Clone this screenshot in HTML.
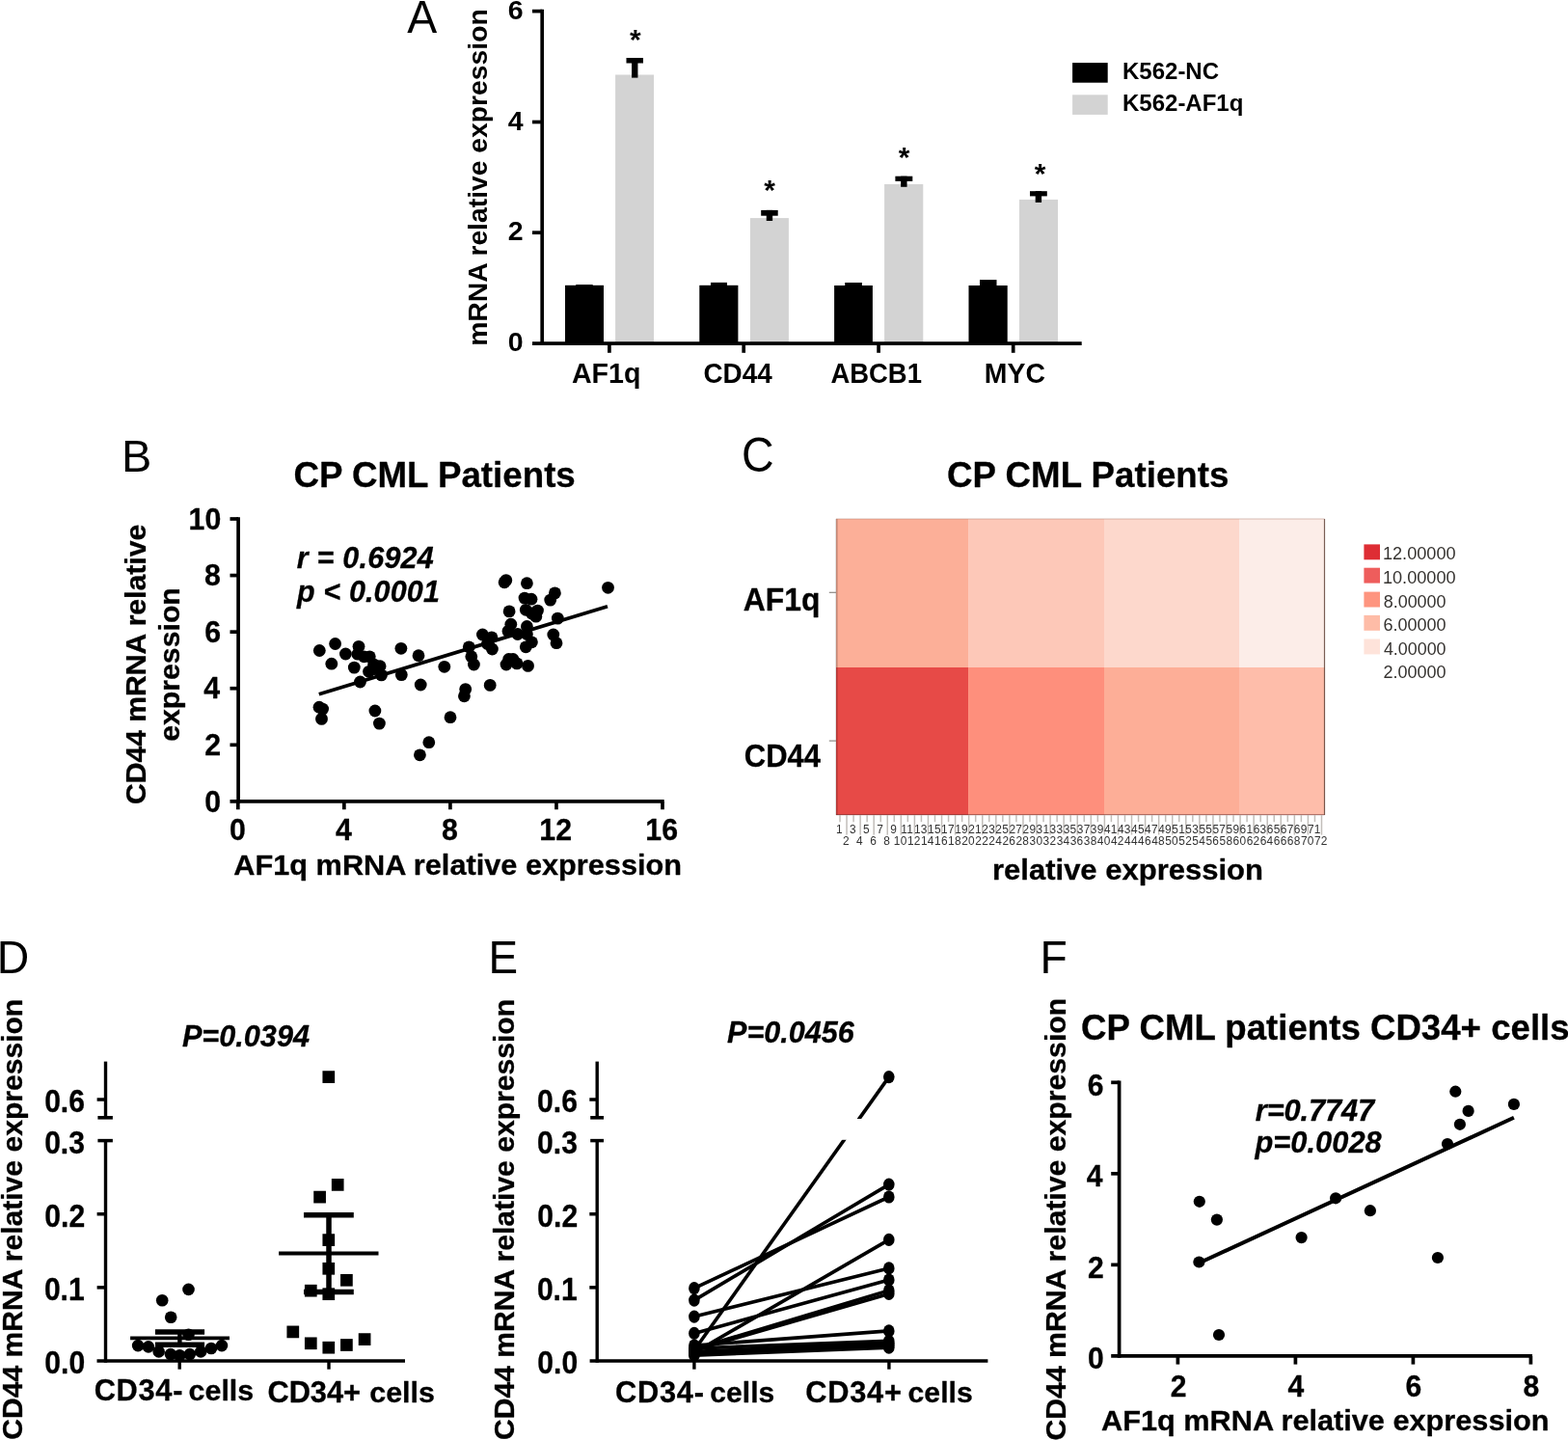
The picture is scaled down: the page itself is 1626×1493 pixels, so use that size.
<!DOCTYPE html>
<html lang="en"><head><meta charset="utf-8"><title>Figure</title>
<style>
html,body{margin:0;padding:0;background:#fff;overflow:hidden}
svg{display:block}
svg text{font-family:'Liberation Sans', sans-serif;}
.hv text[font-weight="bold"]{stroke:#000;stroke-width:0.3px;stroke-linejoin:round}
text.pl{stroke:#000;stroke-width:0.5px}
</style></head>
<body>
<svg width="1626" height="1493" viewBox="0 0 1626 1493" role="img" aria-label="Figure with panels A to F">
<rect x="0" y="0" width="1626" height="1493" fill="#ffffff"/>
<g id="panelA">
<text x="422.16" y="34.00" font-size="47.4" font-weight="normal" text-anchor="start" fill="#000" textLength="30.95" lengthAdjust="spacingAndGlyphs" >A</text>
<text transform="translate(505.05 358.87) rotate(-90)" font-size="28" font-weight="bold" text-anchor="start" fill="#000" textLength="349.57" lengthAdjust="spacingAndGlyphs" >mRNA relative expression</text>
<line x1="562.20" y1="9.75" x2="562.20" y2="358.05" stroke="#000" stroke-width="3.7" stroke-linecap="butt" />
<line x1="552.00" y1="11.60" x2="562.20" y2="11.60" stroke="#000" stroke-width="3.7" stroke-linecap="butt" />
<text x="542.50" y="19.75" font-size="28.5" font-weight="bold" text-anchor="end" fill="#000" >6</text>
<line x1="552.00" y1="126.50" x2="562.20" y2="126.50" stroke="#000" stroke-width="3.7" stroke-linecap="butt" />
<text x="542.50" y="134.65" font-size="28.5" font-weight="bold" text-anchor="end" fill="#000" >4</text>
<line x1="552.00" y1="241.20" x2="562.20" y2="241.20" stroke="#000" stroke-width="3.7" stroke-linecap="butt" />
<text x="542.50" y="249.35" font-size="28.5" font-weight="bold" text-anchor="end" fill="#000" >2</text>
<text x="542.50" y="364.15" font-size="28.5" font-weight="bold" text-anchor="end" fill="#000" >0</text>
<rect x="586.00" y="295.80" width="40.00" height="60.40" fill="#000" />
<rect x="597.20" y="295.10" width="17.50" height="1.70" fill="#000" />
<rect x="638.10" y="77.50" width="40.00" height="278.70" fill="#d3d3d3" />
<rect x="649.50" y="60.00" width="17.50" height="5.50" fill="#000" />
<rect x="655.05" y="60.00" width="6.40" height="20.60" fill="#000" />
<line x1="631.90" y1="356.20" x2="631.90" y2="365.80" stroke="#000" stroke-width="3.7" stroke-linecap="butt" />
<text x="592.89" y="397.40" font-size="30.2" font-weight="bold" text-anchor="start" fill="#000" textLength="71.47" lengthAdjust="spacingAndGlyphs" >AF1q</text>
<text x="653.00" y="50.50" font-size="30" font-weight="bold" text-anchor="start" fill="#000" >*</text>
<rect x="725.30" y="295.80" width="40.10" height="60.40" fill="#000" />
<rect x="737.00" y="292.90" width="17.00" height="3.90" fill="#000" />
<rect x="777.90" y="226.10" width="40.00" height="130.10" fill="#d3d3d3" />
<rect x="789.20" y="217.90" width="17.50" height="5.80" fill="#000" />
<rect x="794.75" y="217.90" width="6.40" height="11.10" fill="#000" />
<line x1="771.20" y1="356.20" x2="771.20" y2="365.80" stroke="#000" stroke-width="3.7" stroke-linecap="butt" />
<text x="729.45" y="397.40" font-size="30.2" font-weight="bold" text-anchor="start" fill="#000" textLength="71.23" lengthAdjust="spacingAndGlyphs" >CD44</text>
<text x="792.20" y="207.40" font-size="30" font-weight="bold" text-anchor="start" fill="#000" >*</text>
<rect x="865.10" y="296.00" width="39.80" height="60.20" fill="#000" />
<rect x="876.20" y="293.00" width="17.70" height="4.00" fill="#000" />
<rect x="917.10" y="191.00" width="40.20" height="165.20" fill="#d3d3d3" />
<rect x="928.40" y="182.70" width="17.90" height="5.20" fill="#000" />
<rect x="934.15" y="182.70" width="6.40" height="11.10" fill="#000" />
<line x1="911.10" y1="356.20" x2="911.10" y2="365.80" stroke="#000" stroke-width="3.7" stroke-linecap="butt" />
<text x="861.42" y="397.40" font-size="30.2" font-weight="bold" text-anchor="start" fill="#000" textLength="94.56" lengthAdjust="spacingAndGlyphs" >ABCB1</text>
<text x="931.70" y="173.30" font-size="30" font-weight="bold" text-anchor="start" fill="#000" >*</text>
<rect x="1004.50" y="296.00" width="40.20" height="60.20" fill="#000" />
<rect x="1016.00" y="290.10" width="17.50" height="6.90" fill="#000" />
<rect x="1057.00" y="206.90" width="40.00" height="149.30" fill="#d3d3d3" />
<rect x="1068.00" y="198.20" width="17.80" height="5.20" fill="#000" />
<rect x="1073.70" y="198.20" width="6.40" height="11.70" fill="#000" />
<line x1="1050.70" y1="356.20" x2="1050.70" y2="365.80" stroke="#000" stroke-width="3.7" stroke-linecap="butt" />
<text x="1020.82" y="397.40" font-size="30.2" font-weight="bold" text-anchor="start" fill="#000" textLength="63.18" lengthAdjust="spacingAndGlyphs" >MYC</text>
<text x="1072.80" y="189.50" font-size="30" font-weight="bold" text-anchor="start" fill="#000" >*</text>
<line x1="552.00" y1="356.20" x2="1121.70" y2="356.20" stroke="#000" stroke-width="3.8" stroke-linecap="butt" />
<rect x="1112.10" y="65.10" width="36.60" height="20.60" fill="#000" />
<rect x="1112.10" y="98.30" width="36.60" height="20.60" fill="#d3d3d3" />
<text x="1164.00" y="81.50" font-size="24" font-weight="bold" text-anchor="start" fill="#000" >K562-NC</text>
<text x="1164.00" y="115.20" font-size="24" font-weight="bold" text-anchor="start" fill="#000" >K562-AF1q</text>
</g>
<g id="panelB" class="hv">
<text x="126.13" y="489.30" font-size="46.6" font-weight="normal" text-anchor="start" fill="#000" textLength="31.27" lengthAdjust="spacingAndGlyphs" >B</text>
<text x="304.40" y="504.70" font-size="36.8" font-weight="bold" text-anchor="start" fill="#000" textLength="292.39" lengthAdjust="spacingAndGlyphs" >CP CML Patients</text>
<line x1="247.10" y1="536.20" x2="247.10" y2="832.75" stroke="#000" stroke-width="3.7" stroke-linecap="butt" />
<line x1="238.50" y1="830.90" x2="688.70" y2="830.90" stroke="#000" stroke-width="3.7" stroke-linecap="butt" />
<line x1="238.50" y1="538.00" x2="247.10" y2="538.00" stroke="#000" stroke-width="3.7" stroke-linecap="butt" />
<text x="195.57" y="548.70" font-size="31.4" font-weight="bold" text-anchor="start" fill="#000" textLength="33.7" lengthAdjust="spacingAndGlyphs" >10</text>
<line x1="238.50" y1="596.58" x2="247.10" y2="596.58" stroke="#000" stroke-width="3.7" stroke-linecap="butt" />
<text x="211.98" y="607.28" font-size="31.4" font-weight="bold" text-anchor="start" fill="#000" textLength="16.86" lengthAdjust="spacingAndGlyphs" >8</text>
<line x1="238.50" y1="655.16" x2="247.10" y2="655.16" stroke="#000" stroke-width="3.7" stroke-linecap="butt" />
<text x="212.22" y="665.86" font-size="31.4" font-weight="bold" text-anchor="start" fill="#000" textLength="16.86" lengthAdjust="spacingAndGlyphs" >6</text>
<line x1="238.50" y1="713.74" x2="247.10" y2="713.74" stroke="#000" stroke-width="3.7" stroke-linecap="butt" />
<text x="211.25" y="724.44" font-size="31.4" font-weight="bold" text-anchor="start" fill="#000" textLength="16.86" lengthAdjust="spacingAndGlyphs" >4</text>
<line x1="238.50" y1="772.32" x2="247.10" y2="772.32" stroke="#000" stroke-width="3.7" stroke-linecap="butt" />
<text x="212.22" y="783.02" font-size="31.4" font-weight="bold" text-anchor="start" fill="#000" textLength="16.86" lengthAdjust="spacingAndGlyphs" >2</text>
<text x="212.22" y="841.60" font-size="31.4" font-weight="bold" text-anchor="start" fill="#000" textLength="16.86" lengthAdjust="spacingAndGlyphs" >0</text>
<line x1="246.80" y1="830.90" x2="246.80" y2="839.30" stroke="#000" stroke-width="3.7" stroke-linecap="butt" />
<text x="237.96" y="871.00" font-size="31.4" font-weight="bold" text-anchor="start" fill="#000" textLength="16.86" lengthAdjust="spacingAndGlyphs" >0</text>
<line x1="356.85" y1="830.90" x2="356.85" y2="839.30" stroke="#000" stroke-width="3.7" stroke-linecap="butt" />
<text x="347.89" y="871.00" font-size="31.4" font-weight="bold" text-anchor="start" fill="#000" textLength="16.86" lengthAdjust="spacingAndGlyphs" >4</text>
<line x1="466.90" y1="830.90" x2="466.90" y2="839.30" stroke="#000" stroke-width="3.7" stroke-linecap="butt" />
<text x="458.06" y="871.00" font-size="31.4" font-weight="bold" text-anchor="start" fill="#000" textLength="16.86" lengthAdjust="spacingAndGlyphs" >8</text>
<line x1="576.95" y1="830.90" x2="576.95" y2="839.30" stroke="#000" stroke-width="3.7" stroke-linecap="butt" />
<text x="559.30" y="871.00" font-size="31.4" font-weight="bold" text-anchor="start" fill="#000" textLength="33.7" lengthAdjust="spacingAndGlyphs" >12</text>
<line x1="687.00" y1="830.90" x2="687.00" y2="839.30" stroke="#000" stroke-width="3.7" stroke-linecap="butt" />
<text x="669.35" y="871.00" font-size="31.4" font-weight="bold" text-anchor="start" fill="#000" textLength="33.7" lengthAdjust="spacingAndGlyphs" >16</text>
<text x="242.33" y="906.60" font-size="30.0" font-weight="bold" text-anchor="start" fill="#000" textLength="464.71" lengthAdjust="spacingAndGlyphs" >AF1q mRNA relative expression</text>
<text transform="translate(151.20 834.11) rotate(-90)" font-size="30.0" font-weight="bold" text-anchor="start" fill="#000" textLength="290.28" lengthAdjust="spacingAndGlyphs" >CD44 mRNA relative</text>
<text transform="translate(186.00 768.87) rotate(-90)" font-size="29.8" font-weight="bold" text-anchor="start" fill="#000" textLength="159.71" lengthAdjust="spacingAndGlyphs" >expression</text>
<text x="307.80" y="588.90" font-size="30.5" font-weight="bold" text-anchor="start" fill="#000" font-style="italic" textLength="141.97" lengthAdjust="spacing">r = 0.6924</text>
<text x="307.95" y="624.20" font-size="30.5" font-weight="bold" text-anchor="start" fill="#000" font-style="italic" textLength="147.94" lengthAdjust="spacing">p &lt; 0.0001</text>
<line x1="330.80" y1="719.70" x2="630.00" y2="628.70" stroke="#000" stroke-width="3.7" stroke-linecap="butt" />
<circle cx="331.30" cy="674.50" r="6.4" fill="#000"/>
<circle cx="347.60" cy="667.50" r="6.4" fill="#000"/>
<circle cx="358.40" cy="678.00" r="6.4" fill="#000"/>
<circle cx="343.80" cy="688.20" r="6.4" fill="#000"/>
<circle cx="372.00" cy="670.30" r="6.4" fill="#000"/>
<circle cx="370.90" cy="678.20" r="6.4" fill="#000"/>
<circle cx="377.50" cy="680.80" r="6.4" fill="#000"/>
<circle cx="383.30" cy="680.80" r="6.4" fill="#000"/>
<circle cx="367.30" cy="692.10" r="6.4" fill="#000"/>
<circle cx="387.50" cy="688.90" r="6.4" fill="#000"/>
<circle cx="394.10" cy="690.70" r="6.4" fill="#000"/>
<circle cx="382.50" cy="696.30" r="6.4" fill="#000"/>
<circle cx="395.50" cy="699.90" r="6.4" fill="#000"/>
<circle cx="415.90" cy="672.30" r="6.4" fill="#000"/>
<circle cx="434.00" cy="679.70" r="6.4" fill="#000"/>
<circle cx="416.30" cy="699.60" r="6.4" fill="#000"/>
<circle cx="460.80" cy="691.30" r="6.4" fill="#000"/>
<circle cx="373.50" cy="707.00" r="6.4" fill="#000"/>
<circle cx="436.20" cy="710.00" r="6.4" fill="#000"/>
<circle cx="331.00" cy="733.20" r="6.4" fill="#000"/>
<circle cx="334.60" cy="735.10" r="6.4" fill="#000"/>
<circle cx="333.50" cy="745.40" r="6.4" fill="#000"/>
<circle cx="388.90" cy="737.00" r="6.4" fill="#000"/>
<circle cx="393.40" cy="750.10" r="6.4" fill="#000"/>
<circle cx="467.00" cy="743.70" r="6.4" fill="#000"/>
<circle cx="482.70" cy="714.60" r="6.4" fill="#000"/>
<circle cx="481.40" cy="721.80" r="6.4" fill="#000"/>
<circle cx="444.80" cy="769.70" r="6.4" fill="#000"/>
<circle cx="435.40" cy="782.80" r="6.4" fill="#000"/>
<circle cx="524.80" cy="601.60" r="6.4" fill="#000"/>
<circle cx="523.10" cy="603.80" r="6.4" fill="#000"/>
<circle cx="546.40" cy="604.70" r="6.4" fill="#000"/>
<circle cx="630.50" cy="609.30" r="6.4" fill="#000"/>
<circle cx="575.40" cy="614.90" r="6.4" fill="#000"/>
<circle cx="570.70" cy="622.10" r="6.4" fill="#000"/>
<circle cx="544.00" cy="620.10" r="6.4" fill="#000"/>
<circle cx="551.00" cy="621.20" r="6.4" fill="#000"/>
<circle cx="528.10" cy="633.90" r="6.4" fill="#000"/>
<circle cx="545.30" cy="632.30" r="6.4" fill="#000"/>
<circle cx="557.50" cy="633.10" r="6.4" fill="#000"/>
<circle cx="554.10" cy="635.90" r="6.4" fill="#000"/>
<circle cx="555.80" cy="639.20" r="6.4" fill="#000"/>
<circle cx="578.30" cy="641.10" r="6.4" fill="#000"/>
<circle cx="529.80" cy="647.20" r="6.4" fill="#000"/>
<circle cx="546.40" cy="649.50" r="6.4" fill="#000"/>
<circle cx="527.00" cy="654.40" r="6.4" fill="#000"/>
<circle cx="536.80" cy="657.50" r="6.4" fill="#000"/>
<circle cx="546.40" cy="657.50" r="6.4" fill="#000"/>
<circle cx="500.40" cy="658.00" r="6.4" fill="#000"/>
<circle cx="509.90" cy="660.80" r="6.4" fill="#000"/>
<circle cx="505.40" cy="667.50" r="6.4" fill="#000"/>
<circle cx="510.40" cy="673.00" r="6.4" fill="#000"/>
<circle cx="486.30" cy="670.80" r="6.4" fill="#000"/>
<circle cx="488.80" cy="680.70" r="6.4" fill="#000"/>
<circle cx="491.40" cy="689.00" r="6.4" fill="#000"/>
<circle cx="573.80" cy="658.00" r="6.4" fill="#000"/>
<circle cx="577.00" cy="666.70" r="6.4" fill="#000"/>
<circle cx="551.40" cy="665.80" r="6.4" fill="#000"/>
<circle cx="545.30" cy="670.80" r="6.4" fill="#000"/>
<circle cx="527.60" cy="683.50" r="6.4" fill="#000"/>
<circle cx="532.00" cy="683.50" r="6.4" fill="#000"/>
<circle cx="525.00" cy="689.00" r="6.4" fill="#000"/>
<circle cx="536.00" cy="687.90" r="6.4" fill="#000"/>
<circle cx="547.50" cy="690.40" r="6.4" fill="#000"/>
<circle cx="508.20" cy="710.40" r="6.4" fill="#000"/>
<circle cx="551.40" cy="636.00" r="6.4" fill="#000"/>
<circle cx="388.50" cy="693.50" r="6.4" fill="#000"/>
</g>
<g id="panelC" class="hv">
<text x="768.99" y="489.10" font-size="50.4" font-weight="normal" text-anchor="start" fill="#000" textLength="33.66" lengthAdjust="spacingAndGlyphs" >C</text>
<text x="982.10" y="505.00" font-size="36.8" font-weight="bold" text-anchor="start" fill="#000" textLength="292.29" lengthAdjust="spacingAndGlyphs" >CP CML Patients</text>
<rect x="867.00" y="538.00" width="137.40" height="154.30" fill="#fcaf98" />
<rect x="867.00" y="692.00" width="137.40" height="153.00" fill="#e74a47" />
<rect x="1004.10" y="538.00" width="141.20" height="154.30" fill="#fdc8b8" />
<rect x="1004.10" y="692.00" width="141.20" height="153.00" fill="#fe8f7c" />
<rect x="1145.00" y="538.00" width="140.30" height="154.30" fill="#fdd8cc" />
<rect x="1145.00" y="692.00" width="140.30" height="153.00" fill="#fdae97" />
<rect x="1285.00" y="538.00" width="88.80" height="154.30" fill="#fcede8" />
<rect x="1285.00" y="692.00" width="88.80" height="153.00" fill="#febdaa" />
<rect x="866.50" y="538.00" width="2.10" height="307.00" fill="#000" opacity="0.22"/>
<line x1="1373.50" y1="538.00" x2="1373.50" y2="845.00" stroke="#5a3a30" stroke-width="1.2" stroke-linecap="butt" opacity="0.8"/>
<line x1="867.00" y1="844.70" x2="1373.50" y2="844.70" stroke="#6a2a28" stroke-width="1.2" stroke-linecap="butt" opacity="0.5"/>
<line x1="867.00" y1="538.00" x2="1373.50" y2="538.00" stroke="#b08070" stroke-width="1" stroke-linecap="butt" opacity="0.5"/>
<line x1="859.80" y1="614.30" x2="867.00" y2="614.30" stroke="#8c8884" stroke-width="1.2" stroke-linecap="butt" />
<line x1="859.80" y1="768.10" x2="867.00" y2="768.10" stroke="#8c8884" stroke-width="1.2" stroke-linecap="butt" />
<text x="770.78" y="632.86" font-size="33" font-weight="bold" text-anchor="start" fill="#000" textLength="79.65" lengthAdjust="spacingAndGlyphs" >AF1q</text>
<text x="771.81" y="795.40" font-size="32.6" font-weight="bold" text-anchor="start" fill="#000" textLength="79.23" lengthAdjust="spacingAndGlyphs" >CD44</text>
<line x1="871.02" y1="845.00" x2="871.02" y2="852.20" stroke="#c2beba" stroke-width="1.5" stroke-linecap="butt" />
<text x="870.42" y="863.80" font-size="11.9" font-weight="normal" text-anchor="middle" fill="#333" letter-spacing="0.3" >1</text>
<line x1="878.05" y1="845.00" x2="878.05" y2="865.60" stroke="#c2beba" stroke-width="1.5" stroke-linecap="butt" />
<text x="877.45" y="875.80" font-size="11.9" font-weight="normal" text-anchor="middle" fill="#333" letter-spacing="0.3" >2</text>
<line x1="885.09" y1="845.00" x2="885.09" y2="852.20" stroke="#c2beba" stroke-width="1.5" stroke-linecap="butt" />
<text x="884.49" y="863.80" font-size="11.9" font-weight="normal" text-anchor="middle" fill="#333" letter-spacing="0.3" >3</text>
<line x1="892.12" y1="845.00" x2="892.12" y2="865.60" stroke="#c2beba" stroke-width="1.5" stroke-linecap="butt" />
<text x="891.52" y="875.80" font-size="11.9" font-weight="normal" text-anchor="middle" fill="#333" letter-spacing="0.3" >4</text>
<line x1="899.16" y1="845.00" x2="899.16" y2="852.20" stroke="#c2beba" stroke-width="1.5" stroke-linecap="butt" />
<text x="898.56" y="863.80" font-size="11.9" font-weight="normal" text-anchor="middle" fill="#333" letter-spacing="0.3" >5</text>
<line x1="906.19" y1="845.00" x2="906.19" y2="865.60" stroke="#c2beba" stroke-width="1.5" stroke-linecap="butt" />
<text x="905.59" y="875.80" font-size="11.9" font-weight="normal" text-anchor="middle" fill="#333" letter-spacing="0.3" >6</text>
<line x1="913.23" y1="845.00" x2="913.23" y2="852.20" stroke="#c2beba" stroke-width="1.5" stroke-linecap="butt" />
<text x="912.63" y="863.80" font-size="11.9" font-weight="normal" text-anchor="middle" fill="#333" letter-spacing="0.3" >7</text>
<line x1="920.26" y1="845.00" x2="920.26" y2="865.60" stroke="#c2beba" stroke-width="1.5" stroke-linecap="butt" />
<text x="919.66" y="875.80" font-size="11.9" font-weight="normal" text-anchor="middle" fill="#333" letter-spacing="0.3" >8</text>
<line x1="927.30" y1="845.00" x2="927.30" y2="852.20" stroke="#c2beba" stroke-width="1.5" stroke-linecap="butt" />
<text x="926.70" y="863.80" font-size="11.9" font-weight="normal" text-anchor="middle" fill="#333" letter-spacing="0.3" >9</text>
<line x1="934.33" y1="845.00" x2="934.33" y2="865.60" stroke="#c2beba" stroke-width="1.5" stroke-linecap="butt" />
<text x="933.73" y="875.80" font-size="11.9" font-weight="normal" text-anchor="middle" fill="#333" letter-spacing="0.3" >10</text>
<line x1="941.36" y1="845.00" x2="941.36" y2="852.20" stroke="#c2beba" stroke-width="1.5" stroke-linecap="butt" />
<text x="940.76" y="863.80" font-size="11.9" font-weight="normal" text-anchor="middle" fill="#333" letter-spacing="0.3" >11</text>
<line x1="948.40" y1="845.00" x2="948.40" y2="865.60" stroke="#c2beba" stroke-width="1.5" stroke-linecap="butt" />
<text x="947.80" y="875.80" font-size="11.9" font-weight="normal" text-anchor="middle" fill="#333" letter-spacing="0.3" >12</text>
<line x1="955.43" y1="845.00" x2="955.43" y2="852.20" stroke="#c2beba" stroke-width="1.5" stroke-linecap="butt" />
<text x="954.83" y="863.80" font-size="11.9" font-weight="normal" text-anchor="middle" fill="#333" letter-spacing="0.3" >13</text>
<line x1="962.47" y1="845.00" x2="962.47" y2="865.60" stroke="#c2beba" stroke-width="1.5" stroke-linecap="butt" />
<text x="961.87" y="875.80" font-size="11.9" font-weight="normal" text-anchor="middle" fill="#333" letter-spacing="0.3" >14</text>
<line x1="969.50" y1="845.00" x2="969.50" y2="852.20" stroke="#c2beba" stroke-width="1.5" stroke-linecap="butt" />
<text x="968.90" y="863.80" font-size="11.9" font-weight="normal" text-anchor="middle" fill="#333" letter-spacing="0.3" >15</text>
<line x1="976.54" y1="845.00" x2="976.54" y2="865.60" stroke="#c2beba" stroke-width="1.5" stroke-linecap="butt" />
<text x="975.94" y="875.80" font-size="11.9" font-weight="normal" text-anchor="middle" fill="#333" letter-spacing="0.3" >16</text>
<line x1="983.57" y1="845.00" x2="983.57" y2="852.20" stroke="#c2beba" stroke-width="1.5" stroke-linecap="butt" />
<text x="982.97" y="863.80" font-size="11.9" font-weight="normal" text-anchor="middle" fill="#333" letter-spacing="0.3" >17</text>
<line x1="990.61" y1="845.00" x2="990.61" y2="865.60" stroke="#c2beba" stroke-width="1.5" stroke-linecap="butt" />
<text x="990.01" y="875.80" font-size="11.9" font-weight="normal" text-anchor="middle" fill="#333" letter-spacing="0.3" >18</text>
<line x1="997.64" y1="845.00" x2="997.64" y2="852.20" stroke="#c2beba" stroke-width="1.5" stroke-linecap="butt" />
<text x="997.04" y="863.80" font-size="11.9" font-weight="normal" text-anchor="middle" fill="#333" letter-spacing="0.3" >19</text>
<line x1="1004.68" y1="845.00" x2="1004.68" y2="865.60" stroke="#c2beba" stroke-width="1.5" stroke-linecap="butt" />
<text x="1004.08" y="875.80" font-size="11.9" font-weight="normal" text-anchor="middle" fill="#333" letter-spacing="0.3" >20</text>
<line x1="1011.71" y1="845.00" x2="1011.71" y2="852.20" stroke="#c2beba" stroke-width="1.5" stroke-linecap="butt" />
<text x="1011.11" y="863.80" font-size="11.9" font-weight="normal" text-anchor="middle" fill="#333" letter-spacing="0.3" >21</text>
<line x1="1018.75" y1="845.00" x2="1018.75" y2="865.60" stroke="#c2beba" stroke-width="1.5" stroke-linecap="butt" />
<text x="1018.15" y="875.80" font-size="11.9" font-weight="normal" text-anchor="middle" fill="#333" letter-spacing="0.3" >22</text>
<line x1="1025.78" y1="845.00" x2="1025.78" y2="852.20" stroke="#c2beba" stroke-width="1.5" stroke-linecap="butt" />
<text x="1025.18" y="863.80" font-size="11.9" font-weight="normal" text-anchor="middle" fill="#333" letter-spacing="0.3" >23</text>
<line x1="1032.82" y1="845.00" x2="1032.82" y2="865.60" stroke="#c2beba" stroke-width="1.5" stroke-linecap="butt" />
<text x="1032.22" y="875.80" font-size="11.9" font-weight="normal" text-anchor="middle" fill="#333" letter-spacing="0.3" >24</text>
<line x1="1039.85" y1="845.00" x2="1039.85" y2="852.20" stroke="#c2beba" stroke-width="1.5" stroke-linecap="butt" />
<text x="1039.25" y="863.80" font-size="11.9" font-weight="normal" text-anchor="middle" fill="#333" letter-spacing="0.3" >25</text>
<line x1="1046.89" y1="845.00" x2="1046.89" y2="865.60" stroke="#c2beba" stroke-width="1.5" stroke-linecap="butt" />
<text x="1046.29" y="875.80" font-size="11.9" font-weight="normal" text-anchor="middle" fill="#333" letter-spacing="0.3" >26</text>
<line x1="1053.92" y1="845.00" x2="1053.92" y2="852.20" stroke="#c2beba" stroke-width="1.5" stroke-linecap="butt" />
<text x="1053.32" y="863.80" font-size="11.9" font-weight="normal" text-anchor="middle" fill="#333" letter-spacing="0.3" >27</text>
<line x1="1060.95" y1="845.00" x2="1060.95" y2="865.60" stroke="#c2beba" stroke-width="1.5" stroke-linecap="butt" />
<text x="1060.35" y="875.80" font-size="11.9" font-weight="normal" text-anchor="middle" fill="#333" letter-spacing="0.3" >28</text>
<line x1="1067.99" y1="845.00" x2="1067.99" y2="852.20" stroke="#c2beba" stroke-width="1.5" stroke-linecap="butt" />
<text x="1067.39" y="863.80" font-size="11.9" font-weight="normal" text-anchor="middle" fill="#333" letter-spacing="0.3" >29</text>
<line x1="1075.02" y1="845.00" x2="1075.02" y2="865.60" stroke="#c2beba" stroke-width="1.5" stroke-linecap="butt" />
<text x="1074.42" y="875.80" font-size="11.9" font-weight="normal" text-anchor="middle" fill="#333" letter-spacing="0.3" >30</text>
<line x1="1082.06" y1="845.00" x2="1082.06" y2="852.20" stroke="#c2beba" stroke-width="1.5" stroke-linecap="butt" />
<text x="1081.46" y="863.80" font-size="11.9" font-weight="normal" text-anchor="middle" fill="#333" letter-spacing="0.3" >31</text>
<line x1="1089.09" y1="845.00" x2="1089.09" y2="865.60" stroke="#c2beba" stroke-width="1.5" stroke-linecap="butt" />
<text x="1088.49" y="875.80" font-size="11.9" font-weight="normal" text-anchor="middle" fill="#333" letter-spacing="0.3" >32</text>
<line x1="1096.13" y1="845.00" x2="1096.13" y2="852.20" stroke="#c2beba" stroke-width="1.5" stroke-linecap="butt" />
<text x="1095.53" y="863.80" font-size="11.9" font-weight="normal" text-anchor="middle" fill="#333" letter-spacing="0.3" >33</text>
<line x1="1103.16" y1="845.00" x2="1103.16" y2="865.60" stroke="#c2beba" stroke-width="1.5" stroke-linecap="butt" />
<text x="1102.56" y="875.80" font-size="11.9" font-weight="normal" text-anchor="middle" fill="#333" letter-spacing="0.3" >34</text>
<line x1="1110.20" y1="845.00" x2="1110.20" y2="852.20" stroke="#c2beba" stroke-width="1.5" stroke-linecap="butt" />
<text x="1109.60" y="863.80" font-size="11.9" font-weight="normal" text-anchor="middle" fill="#333" letter-spacing="0.3" >35</text>
<line x1="1117.23" y1="845.00" x2="1117.23" y2="865.60" stroke="#c2beba" stroke-width="1.5" stroke-linecap="butt" />
<text x="1116.63" y="875.80" font-size="11.9" font-weight="normal" text-anchor="middle" fill="#333" letter-spacing="0.3" >36</text>
<line x1="1124.27" y1="845.00" x2="1124.27" y2="852.20" stroke="#c2beba" stroke-width="1.5" stroke-linecap="butt" />
<text x="1123.67" y="863.80" font-size="11.9" font-weight="normal" text-anchor="middle" fill="#333" letter-spacing="0.3" >37</text>
<line x1="1131.30" y1="845.00" x2="1131.30" y2="865.60" stroke="#c2beba" stroke-width="1.5" stroke-linecap="butt" />
<text x="1130.70" y="875.80" font-size="11.9" font-weight="normal" text-anchor="middle" fill="#333" letter-spacing="0.3" >38</text>
<line x1="1138.34" y1="845.00" x2="1138.34" y2="852.20" stroke="#c2beba" stroke-width="1.5" stroke-linecap="butt" />
<text x="1137.74" y="863.80" font-size="11.9" font-weight="normal" text-anchor="middle" fill="#333" letter-spacing="0.3" >39</text>
<line x1="1145.37" y1="845.00" x2="1145.37" y2="865.60" stroke="#c2beba" stroke-width="1.5" stroke-linecap="butt" />
<text x="1144.77" y="875.80" font-size="11.9" font-weight="normal" text-anchor="middle" fill="#333" letter-spacing="0.3" >40</text>
<line x1="1152.41" y1="845.00" x2="1152.41" y2="852.20" stroke="#c2beba" stroke-width="1.5" stroke-linecap="butt" />
<text x="1151.81" y="863.80" font-size="11.9" font-weight="normal" text-anchor="middle" fill="#333" letter-spacing="0.3" >41</text>
<line x1="1159.44" y1="845.00" x2="1159.44" y2="865.60" stroke="#c2beba" stroke-width="1.5" stroke-linecap="butt" />
<text x="1158.84" y="875.80" font-size="11.9" font-weight="normal" text-anchor="middle" fill="#333" letter-spacing="0.3" >42</text>
<line x1="1166.48" y1="845.00" x2="1166.48" y2="852.20" stroke="#c2beba" stroke-width="1.5" stroke-linecap="butt" />
<text x="1165.88" y="863.80" font-size="11.9" font-weight="normal" text-anchor="middle" fill="#333" letter-spacing="0.3" >43</text>
<line x1="1173.51" y1="845.00" x2="1173.51" y2="865.60" stroke="#c2beba" stroke-width="1.5" stroke-linecap="butt" />
<text x="1172.91" y="875.80" font-size="11.9" font-weight="normal" text-anchor="middle" fill="#333" letter-spacing="0.3" >44</text>
<line x1="1180.55" y1="845.00" x2="1180.55" y2="852.20" stroke="#c2beba" stroke-width="1.5" stroke-linecap="butt" />
<text x="1179.95" y="863.80" font-size="11.9" font-weight="normal" text-anchor="middle" fill="#333" letter-spacing="0.3" >45</text>
<line x1="1187.58" y1="845.00" x2="1187.58" y2="865.60" stroke="#c2beba" stroke-width="1.5" stroke-linecap="butt" />
<text x="1186.98" y="875.80" font-size="11.9" font-weight="normal" text-anchor="middle" fill="#333" letter-spacing="0.3" >46</text>
<line x1="1194.61" y1="845.00" x2="1194.61" y2="852.20" stroke="#c2beba" stroke-width="1.5" stroke-linecap="butt" />
<text x="1194.01" y="863.80" font-size="11.9" font-weight="normal" text-anchor="middle" fill="#333" letter-spacing="0.3" >47</text>
<line x1="1201.65" y1="845.00" x2="1201.65" y2="865.60" stroke="#c2beba" stroke-width="1.5" stroke-linecap="butt" />
<text x="1201.05" y="875.80" font-size="11.9" font-weight="normal" text-anchor="middle" fill="#333" letter-spacing="0.3" >48</text>
<line x1="1208.68" y1="845.00" x2="1208.68" y2="852.20" stroke="#c2beba" stroke-width="1.5" stroke-linecap="butt" />
<text x="1208.08" y="863.80" font-size="11.9" font-weight="normal" text-anchor="middle" fill="#333" letter-spacing="0.3" >49</text>
<line x1="1215.72" y1="845.00" x2="1215.72" y2="865.60" stroke="#c2beba" stroke-width="1.5" stroke-linecap="butt" />
<text x="1215.12" y="875.80" font-size="11.9" font-weight="normal" text-anchor="middle" fill="#333" letter-spacing="0.3" >50</text>
<line x1="1222.75" y1="845.00" x2="1222.75" y2="852.20" stroke="#c2beba" stroke-width="1.5" stroke-linecap="butt" />
<text x="1222.15" y="863.80" font-size="11.9" font-weight="normal" text-anchor="middle" fill="#333" letter-spacing="0.3" >51</text>
<line x1="1229.79" y1="845.00" x2="1229.79" y2="865.60" stroke="#c2beba" stroke-width="1.5" stroke-linecap="butt" />
<text x="1229.19" y="875.80" font-size="11.9" font-weight="normal" text-anchor="middle" fill="#333" letter-spacing="0.3" >52</text>
<line x1="1236.82" y1="845.00" x2="1236.82" y2="852.20" stroke="#c2beba" stroke-width="1.5" stroke-linecap="butt" />
<text x="1236.22" y="863.80" font-size="11.9" font-weight="normal" text-anchor="middle" fill="#333" letter-spacing="0.3" >53</text>
<line x1="1243.86" y1="845.00" x2="1243.86" y2="865.60" stroke="#c2beba" stroke-width="1.5" stroke-linecap="butt" />
<text x="1243.26" y="875.80" font-size="11.9" font-weight="normal" text-anchor="middle" fill="#333" letter-spacing="0.3" >54</text>
<line x1="1250.89" y1="845.00" x2="1250.89" y2="852.20" stroke="#c2beba" stroke-width="1.5" stroke-linecap="butt" />
<text x="1250.29" y="863.80" font-size="11.9" font-weight="normal" text-anchor="middle" fill="#333" letter-spacing="0.3" >55</text>
<line x1="1257.93" y1="845.00" x2="1257.93" y2="865.60" stroke="#c2beba" stroke-width="1.5" stroke-linecap="butt" />
<text x="1257.33" y="875.80" font-size="11.9" font-weight="normal" text-anchor="middle" fill="#333" letter-spacing="0.3" >56</text>
<line x1="1264.96" y1="845.00" x2="1264.96" y2="852.20" stroke="#c2beba" stroke-width="1.5" stroke-linecap="butt" />
<text x="1264.36" y="863.80" font-size="11.9" font-weight="normal" text-anchor="middle" fill="#333" letter-spacing="0.3" >57</text>
<line x1="1272.00" y1="845.00" x2="1272.00" y2="865.60" stroke="#c2beba" stroke-width="1.5" stroke-linecap="butt" />
<text x="1271.40" y="875.80" font-size="11.9" font-weight="normal" text-anchor="middle" fill="#333" letter-spacing="0.3" >58</text>
<line x1="1279.03" y1="845.00" x2="1279.03" y2="852.20" stroke="#c2beba" stroke-width="1.5" stroke-linecap="butt" />
<text x="1278.43" y="863.80" font-size="11.9" font-weight="normal" text-anchor="middle" fill="#333" letter-spacing="0.3" >59</text>
<line x1="1286.07" y1="845.00" x2="1286.07" y2="865.60" stroke="#c2beba" stroke-width="1.5" stroke-linecap="butt" />
<text x="1285.47" y="875.80" font-size="11.9" font-weight="normal" text-anchor="middle" fill="#333" letter-spacing="0.3" >60</text>
<line x1="1293.10" y1="845.00" x2="1293.10" y2="852.20" stroke="#c2beba" stroke-width="1.5" stroke-linecap="butt" />
<text x="1292.50" y="863.80" font-size="11.9" font-weight="normal" text-anchor="middle" fill="#333" letter-spacing="0.3" >61</text>
<line x1="1300.14" y1="845.00" x2="1300.14" y2="865.60" stroke="#c2beba" stroke-width="1.5" stroke-linecap="butt" />
<text x="1299.54" y="875.80" font-size="11.9" font-weight="normal" text-anchor="middle" fill="#333" letter-spacing="0.3" >62</text>
<line x1="1307.17" y1="845.00" x2="1307.17" y2="852.20" stroke="#c2beba" stroke-width="1.5" stroke-linecap="butt" />
<text x="1306.57" y="863.80" font-size="11.9" font-weight="normal" text-anchor="middle" fill="#333" letter-spacing="0.3" >63</text>
<line x1="1314.20" y1="845.00" x2="1314.20" y2="865.60" stroke="#c2beba" stroke-width="1.5" stroke-linecap="butt" />
<text x="1313.60" y="875.80" font-size="11.9" font-weight="normal" text-anchor="middle" fill="#333" letter-spacing="0.3" >64</text>
<line x1="1321.24" y1="845.00" x2="1321.24" y2="852.20" stroke="#c2beba" stroke-width="1.5" stroke-linecap="butt" />
<text x="1320.64" y="863.80" font-size="11.9" font-weight="normal" text-anchor="middle" fill="#333" letter-spacing="0.3" >65</text>
<line x1="1328.27" y1="845.00" x2="1328.27" y2="865.60" stroke="#c2beba" stroke-width="1.5" stroke-linecap="butt" />
<text x="1327.67" y="875.80" font-size="11.9" font-weight="normal" text-anchor="middle" fill="#333" letter-spacing="0.3" >66</text>
<line x1="1335.31" y1="845.00" x2="1335.31" y2="852.20" stroke="#c2beba" stroke-width="1.5" stroke-linecap="butt" />
<text x="1334.71" y="863.80" font-size="11.9" font-weight="normal" text-anchor="middle" fill="#333" letter-spacing="0.3" >67</text>
<line x1="1342.34" y1="845.00" x2="1342.34" y2="865.60" stroke="#c2beba" stroke-width="1.5" stroke-linecap="butt" />
<text x="1341.74" y="875.80" font-size="11.9" font-weight="normal" text-anchor="middle" fill="#333" letter-spacing="0.3" >68</text>
<line x1="1349.38" y1="845.00" x2="1349.38" y2="852.20" stroke="#c2beba" stroke-width="1.5" stroke-linecap="butt" />
<text x="1348.78" y="863.80" font-size="11.9" font-weight="normal" text-anchor="middle" fill="#333" letter-spacing="0.3" >69</text>
<line x1="1356.41" y1="845.00" x2="1356.41" y2="865.60" stroke="#c2beba" stroke-width="1.5" stroke-linecap="butt" />
<text x="1355.81" y="875.80" font-size="11.9" font-weight="normal" text-anchor="middle" fill="#333" letter-spacing="0.3" >70</text>
<line x1="1363.45" y1="845.00" x2="1363.45" y2="852.20" stroke="#c2beba" stroke-width="1.5" stroke-linecap="butt" />
<text x="1362.85" y="863.80" font-size="11.9" font-weight="normal" text-anchor="middle" fill="#333" letter-spacing="0.3" >71</text>
<line x1="1370.48" y1="845.00" x2="1370.48" y2="865.60" stroke="#c2beba" stroke-width="1.5" stroke-linecap="butt" />
<text x="1369.88" y="875.80" font-size="11.9" font-weight="normal" text-anchor="middle" fill="#333" letter-spacing="0.3" >72</text>
<text x="1029.02" y="911.60" font-size="29.8" font-weight="bold" text-anchor="start" fill="#000" textLength="280.95" lengthAdjust="spacingAndGlyphs" >relative expression</text>
<rect x="1414.40" y="564.40" width="16.60" height="15.90" fill="#de2d34" />
<text x="1433.93" y="579.90" font-size="18.6" font-weight="normal" text-anchor="start" fill="#363330" textLength="75.76" lengthAdjust="spacingAndGlyphs" >12.00000</text>
<rect x="1414.40" y="588.70" width="16.60" height="15.90" fill="#ee5d5c" />
<text x="1433.93" y="604.90" font-size="18.6" font-weight="normal" text-anchor="start" fill="#363330" textLength="75.76" lengthAdjust="spacingAndGlyphs" >10.00000</text>
<rect x="1414.40" y="613.60" width="16.60" height="15.90" fill="#fe957f" />
<text x="1434.68" y="629.90" font-size="18.6" font-weight="normal" text-anchor="start" fill="#363330" textLength="64.92" lengthAdjust="spacingAndGlyphs" >8.00000</text>
<rect x="1414.40" y="637.90" width="16.60" height="15.90" fill="#febca7" />
<text x="1434.43" y="654.00" font-size="18.6" font-weight="normal" text-anchor="start" fill="#363330" textLength="65.17" lengthAdjust="spacingAndGlyphs" >6.00000</text>
<rect x="1414.40" y="662.50" width="16.60" height="15.90" fill="#fee3da" />
<text x="1434.92" y="679.10" font-size="18.6" font-weight="normal" text-anchor="start" fill="#363330" textLength="64.67" lengthAdjust="spacingAndGlyphs" >4.00000</text>
<text x="1434.43" y="703.10" font-size="18.6" font-weight="normal" text-anchor="start" fill="#363330" textLength="65.17" lengthAdjust="spacingAndGlyphs" >2.00000</text>
</g>
<g id="panelD" class="hv">
<text x="-3.25" y="1008.90" font-size="48.2" font-weight="normal" text-anchor="start" fill="#000" textLength="33.47" lengthAdjust="spacingAndGlyphs" >D</text>
<text transform="translate(22.97 1492.66) rotate(-90)" font-size="29.9" font-weight="bold" text-anchor="start" fill="#000" textLength="456.91" lengthAdjust="spacingAndGlyphs" >CD44 mRNA relative expression</text>
<text x="188.90" y="1084.60" font-size="30.8" font-weight="bold" text-anchor="start" fill="#000" font-style="italic" textLength="132.13" lengthAdjust="spacingAndGlyphs" >P=0.0394</text>
<line x1="109.50" y1="1100.60" x2="109.50" y2="1158.80" stroke="#000" stroke-width="3.4" stroke-linecap="butt" />
<line x1="101.40" y1="1158.80" x2="116.90" y2="1158.80" stroke="#000" stroke-width="3.6" stroke-linecap="butt" />
<line x1="100.60" y1="1140.00" x2="109.50" y2="1140.00" stroke="#000" stroke-width="3.5" stroke-linecap="butt" />
<line x1="101.40" y1="1182.60" x2="116.90" y2="1182.60" stroke="#000" stroke-width="3.5" stroke-linecap="butt" />
<line x1="109.50" y1="1182.60" x2="109.50" y2="1412.70" stroke="#000" stroke-width="3.4" stroke-linecap="butt" />
<line x1="100.50" y1="1411.00" x2="420.00" y2="1411.00" stroke="#000" stroke-width="3.6" stroke-linecap="butt" />
<line x1="100.60" y1="1334.87" x2="109.50" y2="1334.87" stroke="#000" stroke-width="3.5" stroke-linecap="butt" />
<line x1="100.60" y1="1258.73" x2="109.50" y2="1258.73" stroke="#000" stroke-width="3.5" stroke-linecap="butt" />
<text x="46.13" y="1153.00" font-size="32.3" font-weight="bold" text-anchor="start" fill="#000" textLength="41.85" lengthAdjust="spacingAndGlyphs" >0.6</text>
<text x="46.13" y="1195.60" font-size="32.3" font-weight="bold" text-anchor="start" fill="#000" textLength="41.85" lengthAdjust="spacingAndGlyphs" >0.3</text>
<text x="46.36" y="1271.73" font-size="32.3" font-weight="bold" text-anchor="start" fill="#000" textLength="41.85" lengthAdjust="spacingAndGlyphs" >0.2</text>
<text x="45.89" y="1347.87" font-size="32.3" font-weight="bold" text-anchor="start" fill="#000" textLength="41.85" lengthAdjust="spacingAndGlyphs" >0.1</text>
<text x="46.36" y="1424.00" font-size="32.3" font-weight="bold" text-anchor="start" fill="#000" textLength="41.85" lengthAdjust="spacingAndGlyphs" >0.0</text>
<line x1="186.20" y1="1411.00" x2="186.20" y2="1419.70" stroke="#000" stroke-width="3.4" stroke-linecap="butt" />
<line x1="341.00" y1="1411.00" x2="341.00" y2="1419.70" stroke="#000" stroke-width="3.4" stroke-linecap="butt" />
<text y="1451.50" font-weight="bold" fill="#000"><tspan x="97.65" font-size="30.8" textLength="91.80" lengthAdjust="spacing">CD34-</tspan><tspan font-size="30.0"> </tspan><tspan x="195.58" font-size="30.0" textLength="67.67" lengthAdjust="spacingAndGlyphs">cells</tspan></text>
<text y="1454.00" font-weight="bold" fill="#000"><tspan x="277.55" font-size="30.8" textLength="96.38" lengthAdjust="spacing">CD34+</tspan><tspan font-size="30.0"> </tspan><tspan x="383.23" font-size="30.0" textLength="67.72" lengthAdjust="spacingAndGlyphs">cells</tspan></text>
<circle cx="195.50" cy="1336.90" r="6.3" fill="#000"/>
<circle cx="168.20" cy="1348.20" r="6.3" fill="#000"/>
<circle cx="177.20" cy="1365.70" r="6.3" fill="#000"/>
<circle cx="195.50" cy="1383.70" r="6.3" fill="#000"/>
<circle cx="143.10" cy="1395.10" r="6.3" fill="#000"/>
<circle cx="153.90" cy="1396.40" r="6.3" fill="#000"/>
<circle cx="164.70" cy="1401.40" r="6.3" fill="#000"/>
<circle cx="176.90" cy="1404.10" r="6.3" fill="#000"/>
<circle cx="186.30" cy="1405.20" r="6.3" fill="#000"/>
<circle cx="196.80" cy="1404.10" r="6.3" fill="#000"/>
<circle cx="208.20" cy="1401.40" r="6.3" fill="#000"/>
<circle cx="219.00" cy="1398.00" r="6.3" fill="#000"/>
<circle cx="230.00" cy="1395.10" r="6.3" fill="#000"/>
<line x1="135.10" y1="1387.30" x2="238.00" y2="1387.30" stroke="#000" stroke-width="3.8" stroke-linecap="butt" />
<line x1="160.90" y1="1381.10" x2="212.10" y2="1381.10" stroke="#000" stroke-width="5.5" stroke-linecap="butt" />
<line x1="160.90" y1="1394.20" x2="212.10" y2="1394.20" stroke="#000" stroke-width="5.5" stroke-linecap="butt" />
<line x1="186.40" y1="1381.10" x2="186.40" y2="1394.20" stroke="#000" stroke-width="4.4" stroke-linecap="butt" />
<rect x="334.45" y="1110.25" width="12.70" height="12.70" fill="#000" />
<rect x="343.85" y="1222.05" width="12.70" height="12.70" fill="#000" />
<rect x="325.25" y="1234.75" width="12.70" height="12.70" fill="#000" />
<rect x="334.45" y="1279.25" width="12.70" height="12.70" fill="#000" />
<rect x="334.45" y="1308.95" width="12.70" height="12.70" fill="#000" />
<rect x="353.05" y="1320.95" width="12.70" height="12.70" fill="#000" />
<rect x="315.95" y="1331.85" width="12.70" height="12.70" fill="#000" />
<rect x="334.45" y="1335.35" width="12.70" height="12.70" fill="#000" />
<rect x="297.45" y="1374.55" width="12.70" height="12.70" fill="#000" />
<rect x="315.95" y="1386.45" width="12.70" height="12.70" fill="#000" />
<rect x="334.45" y="1390.85" width="12.70" height="12.70" fill="#000" />
<rect x="353.05" y="1388.15" width="12.70" height="12.70" fill="#000" />
<rect x="371.75" y="1382.25" width="12.70" height="12.70" fill="#000" />
<line x1="289.10" y1="1299.50" x2="392.50" y2="1299.50" stroke="#000" stroke-width="3.9" stroke-linecap="butt" />
<line x1="315.00" y1="1259.70" x2="366.80" y2="1259.70" stroke="#000" stroke-width="5.5" stroke-linecap="butt" />
<line x1="315.00" y1="1339.40" x2="366.80" y2="1339.40" stroke="#000" stroke-width="5.5" stroke-linecap="butt" />
<line x1="341.00" y1="1259.70" x2="341.00" y2="1339.40" stroke="#000" stroke-width="5.5" stroke-linecap="butt" />
</g>
<g id="panelE" class="hv">
<text x="506.45" y="1009.10" font-size="47.6" font-weight="normal" text-anchor="start" fill="#000" textLength="30.58" lengthAdjust="spacingAndGlyphs" >E</text>
<text transform="translate(533.10 1492.92) rotate(-90)" font-size="29.9" font-weight="bold" text-anchor="start" fill="#000" textLength="456.97" lengthAdjust="spacingAndGlyphs" >CD44 mRNA relative expression</text>
<text x="754.00" y="1081.00" font-size="30.8" font-weight="bold" text-anchor="start" fill="#000" font-style="italic" textLength="131.68" lengthAdjust="spacingAndGlyphs" >P=0.0456</text>
<line x1="619.20" y1="1100.60" x2="619.20" y2="1158.80" stroke="#000" stroke-width="3.4" stroke-linecap="butt" />
<line x1="612.20" y1="1158.80" x2="626.00" y2="1158.80" stroke="#000" stroke-width="3.6" stroke-linecap="butt" />
<line x1="611.30" y1="1140.00" x2="619.20" y2="1140.00" stroke="#000" stroke-width="3.5" stroke-linecap="butt" />
<line x1="612.20" y1="1182.60" x2="626.00" y2="1182.60" stroke="#000" stroke-width="3.5" stroke-linecap="butt" />
<line x1="619.20" y1="1182.60" x2="619.20" y2="1412.70" stroke="#000" stroke-width="3.4" stroke-linecap="butt" />
<line x1="611.60" y1="1411.00" x2="1024.40" y2="1411.00" stroke="#000" stroke-width="3.6" stroke-linecap="butt" />
<line x1="611.30" y1="1334.87" x2="619.20" y2="1334.87" stroke="#000" stroke-width="3.5" stroke-linecap="butt" />
<line x1="611.30" y1="1258.73" x2="619.20" y2="1258.73" stroke="#000" stroke-width="3.5" stroke-linecap="butt" />
<text x="557.12" y="1153.00" font-size="32.3" font-weight="bold" text-anchor="start" fill="#000" textLength="41.85" lengthAdjust="spacingAndGlyphs" >0.6</text>
<text x="557.12" y="1195.60" font-size="32.3" font-weight="bold" text-anchor="start" fill="#000" textLength="41.85" lengthAdjust="spacingAndGlyphs" >0.3</text>
<text x="557.36" y="1271.73" font-size="32.3" font-weight="bold" text-anchor="start" fill="#000" textLength="41.85" lengthAdjust="spacingAndGlyphs" >0.2</text>
<text x="556.89" y="1347.87" font-size="32.3" font-weight="bold" text-anchor="start" fill="#000" textLength="41.85" lengthAdjust="spacingAndGlyphs" >0.1</text>
<text x="557.36" y="1424.00" font-size="32.3" font-weight="bold" text-anchor="start" fill="#000" textLength="41.85" lengthAdjust="spacingAndGlyphs" >0.0</text>
<line x1="719.90" y1="1411.00" x2="719.90" y2="1419.70" stroke="#000" stroke-width="3.4" stroke-linecap="butt" />
<line x1="921.90" y1="1411.00" x2="921.90" y2="1419.70" stroke="#000" stroke-width="3.4" stroke-linecap="butt" />
<text y="1454.00" font-weight="bold" fill="#000"><tspan x="637.95" font-size="30.8" textLength="92.00" lengthAdjust="spacing">CD34-</tspan><tspan font-size="30.0"> </tspan><tspan x="736.35" font-size="30.0" textLength="66.89" lengthAdjust="spacingAndGlyphs">cells</tspan></text>
<text y="1454.00" font-weight="bold" fill="#000"><tspan x="835.25" font-size="30.8" textLength="99.68" lengthAdjust="spacing">CD34+</tspan><tspan font-size="30.0"> </tspan><tspan x="941.54" font-size="30.0" textLength="67.20" lengthAdjust="spacingAndGlyphs">cells</tspan></text>
<line x1="719.90" y1="1335.70" x2="921.80" y2="1241.00" stroke="#000" stroke-width="3.6" stroke-linecap="butt" />
<line x1="719.90" y1="1348.10" x2="921.80" y2="1228.10" stroke="#000" stroke-width="3.6" stroke-linecap="butt" />
<line x1="719.90" y1="1365.10" x2="921.80" y2="1314.90" stroke="#000" stroke-width="3.6" stroke-linecap="butt" />
<line x1="719.90" y1="1382.40" x2="921.80" y2="1327.00" stroke="#000" stroke-width="3.6" stroke-linecap="butt" />
<line x1="719.90" y1="1400.00" x2="921.80" y2="1116.60" stroke="#000" stroke-width="3.6" stroke-linecap="butt" />
<line x1="719.90" y1="1402.50" x2="921.80" y2="1285.40" stroke="#000" stroke-width="3.6" stroke-linecap="butt" />
<line x1="719.90" y1="1398.80" x2="921.80" y2="1337.90" stroke="#000" stroke-width="3.6" stroke-linecap="butt" />
<line x1="719.90" y1="1399.80" x2="921.80" y2="1341.40" stroke="#000" stroke-width="3.6" stroke-linecap="butt" />
<line x1="719.90" y1="1395.00" x2="921.80" y2="1379.90" stroke="#000" stroke-width="3.6" stroke-linecap="butt" />
<line x1="719.90" y1="1398.00" x2="921.80" y2="1390.40" stroke="#000" stroke-width="3.6" stroke-linecap="butt" />
<line x1="719.90" y1="1401.40" x2="921.80" y2="1392.80" stroke="#000" stroke-width="3.6" stroke-linecap="butt" />
<line x1="719.90" y1="1404.00" x2="921.80" y2="1394.50" stroke="#000" stroke-width="3.6" stroke-linecap="butt" />
<line x1="719.90" y1="1405.20" x2="921.80" y2="1397.20" stroke="#000" stroke-width="3.6" stroke-linecap="butt" />
<rect x="640.00" y="1160.00" width="360.00" height="21.80" fill="#fff" />
<ellipse cx="719.90" cy="1335.70" rx="5.8" ry="6.6" fill="#000"/>
<ellipse cx="921.80" cy="1241.00" rx="5.8" ry="6.6" fill="#000"/>
<ellipse cx="719.90" cy="1348.10" rx="5.8" ry="6.6" fill="#000"/>
<ellipse cx="921.80" cy="1228.10" rx="5.8" ry="6.6" fill="#000"/>
<ellipse cx="719.90" cy="1365.10" rx="5.8" ry="6.6" fill="#000"/>
<ellipse cx="921.80" cy="1314.90" rx="5.8" ry="6.6" fill="#000"/>
<ellipse cx="719.90" cy="1382.40" rx="5.8" ry="6.6" fill="#000"/>
<ellipse cx="921.80" cy="1327.00" rx="5.8" ry="6.6" fill="#000"/>
<ellipse cx="719.90" cy="1400.00" rx="5.8" ry="6.6" fill="#000"/>
<ellipse cx="921.80" cy="1116.60" rx="5.8" ry="6.6" fill="#000"/>
<ellipse cx="719.90" cy="1402.50" rx="5.8" ry="6.6" fill="#000"/>
<ellipse cx="921.80" cy="1285.40" rx="5.8" ry="6.6" fill="#000"/>
<ellipse cx="719.90" cy="1398.80" rx="5.8" ry="6.6" fill="#000"/>
<ellipse cx="921.80" cy="1337.90" rx="5.8" ry="6.6" fill="#000"/>
<ellipse cx="719.90" cy="1399.80" rx="5.8" ry="6.6" fill="#000"/>
<ellipse cx="921.80" cy="1341.40" rx="5.8" ry="6.6" fill="#000"/>
<ellipse cx="719.90" cy="1395.00" rx="5.8" ry="6.6" fill="#000"/>
<ellipse cx="921.80" cy="1379.90" rx="5.8" ry="6.6" fill="#000"/>
<ellipse cx="719.90" cy="1398.00" rx="5.8" ry="6.6" fill="#000"/>
<ellipse cx="921.80" cy="1390.40" rx="5.8" ry="6.6" fill="#000"/>
<ellipse cx="719.90" cy="1401.40" rx="5.8" ry="6.6" fill="#000"/>
<ellipse cx="921.80" cy="1392.80" rx="5.8" ry="6.6" fill="#000"/>
<ellipse cx="719.90" cy="1404.00" rx="5.8" ry="6.6" fill="#000"/>
<ellipse cx="921.80" cy="1394.50" rx="5.8" ry="6.6" fill="#000"/>
<ellipse cx="719.90" cy="1405.20" rx="5.8" ry="6.6" fill="#000"/>
<ellipse cx="921.80" cy="1397.20" rx="5.8" ry="6.6" fill="#000"/>
</g>
<g id="panelF" class="hv">
<text x="1078.51" y="1009.30" font-size="47.6" font-weight="normal" text-anchor="start" fill="#000" textLength="28.27" lengthAdjust="spacingAndGlyphs" >F</text>
<text x="1121.08" y="1077.90" font-size="36.2" font-weight="bold" text-anchor="start" fill="#000" textLength="506.59" lengthAdjust="spacingAndGlyphs" >CP CML patients CD34+ cells</text>
<text transform="translate(1105.10 1493.51) rotate(-90)" font-size="30.0" font-weight="bold" text-anchor="start" fill="#000" textLength="458.67" lengthAdjust="spacingAndGlyphs" >CD44 mRNA relative expression</text>
<line x1="1160.60" y1="1120.40" x2="1160.60" y2="1407.75" stroke="#000" stroke-width="3.7" stroke-linecap="butt" />
<line x1="1152.20" y1="1405.90" x2="1589.00" y2="1405.90" stroke="#000" stroke-width="3.7" stroke-linecap="butt" />
<line x1="1152.20" y1="1122.30" x2="1160.60" y2="1122.30" stroke="#000" stroke-width="3.7" stroke-linecap="butt" />
<text x="1127.82" y="1135.90" font-size="31.2" font-weight="bold" text-anchor="start" fill="#000" textLength="16.75" lengthAdjust="spacingAndGlyphs" >6</text>
<line x1="1152.20" y1="1216.83" x2="1160.60" y2="1216.83" stroke="#000" stroke-width="3.7" stroke-linecap="butt" />
<text x="1126.85" y="1230.43" font-size="31.2" font-weight="bold" text-anchor="start" fill="#000" textLength="16.75" lengthAdjust="spacingAndGlyphs" >4</text>
<line x1="1152.20" y1="1311.36" x2="1160.60" y2="1311.36" stroke="#000" stroke-width="3.7" stroke-linecap="butt" />
<text x="1128.06" y="1324.96" font-size="31.2" font-weight="bold" text-anchor="start" fill="#000" textLength="16.75" lengthAdjust="spacingAndGlyphs" >2</text>
<text x="1128.06" y="1419.49" font-size="31.2" font-weight="bold" text-anchor="start" fill="#000" textLength="16.75" lengthAdjust="spacingAndGlyphs" >0</text>
<line x1="1221.40" y1="1405.90" x2="1221.40" y2="1414.60" stroke="#000" stroke-width="3.7" stroke-linecap="butt" />
<text x="1213.80" y="1447.60" font-size="31.2" font-weight="bold" text-anchor="start" fill="#000" textLength="16.75" lengthAdjust="spacingAndGlyphs" >2</text>
<line x1="1343.40" y1="1405.90" x2="1343.40" y2="1414.60" stroke="#000" stroke-width="3.7" stroke-linecap="butt" />
<text x="1335.44" y="1447.60" font-size="31.2" font-weight="bold" text-anchor="start" fill="#000" textLength="16.75" lengthAdjust="spacingAndGlyphs" >4</text>
<line x1="1465.40" y1="1405.90" x2="1465.40" y2="1414.60" stroke="#000" stroke-width="3.7" stroke-linecap="butt" />
<text x="1457.56" y="1447.60" font-size="31.2" font-weight="bold" text-anchor="start" fill="#000" textLength="16.75" lengthAdjust="spacingAndGlyphs" >6</text>
<line x1="1587.40" y1="1405.90" x2="1587.40" y2="1414.60" stroke="#000" stroke-width="3.7" stroke-linecap="butt" />
<text x="1579.56" y="1447.60" font-size="31.2" font-weight="bold" text-anchor="start" fill="#000" textLength="16.75" lengthAdjust="spacingAndGlyphs" >8</text>
<text x="1142.03" y="1483.40" font-size="30.0" font-weight="bold" text-anchor="start" fill="#000" textLength="464.51" lengthAdjust="spacingAndGlyphs" >AF1q mRNA relative expression</text>
<text x="1301.80" y="1162.40" font-size="30.8" font-weight="bold" text-anchor="start" fill="#000" font-style="italic" textLength="123.42" lengthAdjust="spacing">r=0.7747</text>
<text x="1301.50" y="1194.90" font-size="30.8" font-weight="bold" text-anchor="start" fill="#000" font-style="italic" textLength="131.20" lengthAdjust="spacing">p=0.0028</text>
<line x1="1243.40" y1="1309.50" x2="1569.90" y2="1158.80" stroke="#000" stroke-width="4.0" stroke-linecap="butt" />
<circle cx="1243.80" cy="1245.80" r="6.1" fill="#000"/>
<circle cx="1261.90" cy="1264.60" r="6.1" fill="#000"/>
<circle cx="1243.40" cy="1308.50" r="6.1" fill="#000"/>
<circle cx="1264.00" cy="1384.00" r="6.1" fill="#000"/>
<circle cx="1349.60" cy="1283.10" r="6.1" fill="#000"/>
<circle cx="1385.10" cy="1242.30" r="6.1" fill="#000"/>
<circle cx="1420.90" cy="1255.20" r="6.1" fill="#000"/>
<circle cx="1490.90" cy="1304.00" r="6.1" fill="#000"/>
<circle cx="1501.00" cy="1186.00" r="6.1" fill="#000"/>
<circle cx="1509.30" cy="1131.70" r="6.1" fill="#000"/>
<circle cx="1513.90" cy="1165.80" r="6.1" fill="#000"/>
<circle cx="1522.60" cy="1151.90" r="6.1" fill="#000"/>
<circle cx="1569.90" cy="1144.90" r="6.1" fill="#000"/>
</g>
</svg>
</body></html>
